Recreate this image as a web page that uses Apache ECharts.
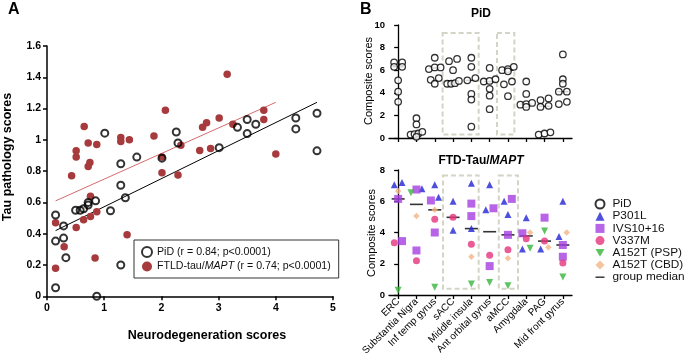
<!DOCTYPE html>
<html><head><meta charset="utf-8">
<script src="https://cdn.jsdelivr.net/npm/echarts@6/dist/echarts.min.js"></script>
<style>html,body{margin:0;padding:0;background:#fff}#c{width:685px;height:361px}</style>
</head><body><div id="c"></div>
<script>
// ---------- Panel A: neurodegeneration vs tau pathology ----------
const pidA = [[1.01,1.043],[1.29,0.847],[1.57,0.89],[2.01,0.883],[2.26,1.05],[2.29,0.98],[3.01,0.95],
  [3.33,1.08],[3.50,1.13],[3.50,1.04],[3.65,1.10],[4.35,1.14],[4.35,1.07],[4.72,1.17],[4.72,0.93],
  [0.15,0.52],[0.29,0.45],[0.15,0.353],[0.29,0.372],[0.33,0.247],[0.15,0.055],[0.87,0.0],[1.29,0.20],
  [0.50,0.55],[0.58,0.55],[0.64,0.56],[0.72,0.583],[0.72,0.60],[0.85,0.61],[1.11,0.547],[1.29,0.71],[1.37,0.63]];
const mapA = [[0.43,0.77],[0.65,1.085],[0.51,0.93],[0.51,0.89],[0.72,0.98],[0.75,0.855],[0.72,0.83],[0.87,0.97],
  [1.29,1.015],[1.29,0.99],[1.44,1.0],[1.87,1.025],[2.07,1.19],[2.01,0.89],[2.01,0.79],[2.29,0.775],[2.34,0.966],
  [2.67,0.932],[2.72,1.08],[2.79,1.11],[2.86,0.945],[3.01,1.14],[3.15,1.42],[3.25,1.10],[3.79,1.19],[3.79,1.13],[4.0,0.91],
  [0.76,0.64],[0.15,0.47],[0.51,0.44],[0.64,0.49],[0.76,0.51],[0.87,0.54],[0.30,0.317],[1.40,0.393],[0.15,0.18],[0.84,0.245]];
const pidFit = [[0.15,0.42],[4.72,1.24]];
const mapFit = [[0.15,0.61],[4.0,1.24]];

// ---------- Panel B: composite scores per region ----------
const regions = ['ERC','Substantia Nigra','Inf temp gyrus','sACC','Middle insula','Ant orbital gyrus','aMCC','Amygdala','PAG','Mid front gyrus'];
const pidB = [[6.7,6.7,6.3,6.3,5.1,4.1,3.2],[1.75,1.2,0.55,0.4,0.35,0.3,0.1],[7.1,6.25,6.25,6.1,5.3,5.15,4.8],
  [7.0,6.8,6.0,5.05,4.85,4.8,4.8],[7.1,6.3,5.3,5.1,3.9,3.4,1.0],[6.2,5.2,5.05,5.0,4.35,3.75,2.55],
  [6.3,6.1,6.0,5.9,5.0,4.75,3.7],[5.0,3.9,3.1,3.0,2.95,2.75],[3.5,3.35,2.85,2.75,0.5,0.4,0.3],[7.4,5.2,4.8,4.1,4.1,3.2,3.0]];
const pidMedian = [6.3,0.4,6.2,5.05,5.1,5.0,6.0,3.0,2.8,4.1];
const p301l = [[7.05,7.2],[6.8],[7.05,6.25],[6.0,4.15],[7.15,4.25],[7.05,5.45],[6.0,5.15],[4.95,2.95],[2.95],[6.0,3.75]];
const ivs = [[6.15,3.45],[6.75,2.85],[6.05,4.0],[],[5.85,5.05],[5.55,1.85],[6.15,3.85],[3.95],[4.95],[3.2,2.45]];
const v337m = [[3.35],[2.2],[4.85],[4.97],[3.25],[2.55],[2.9],[3.6],[3.45],[2.05]];
const a152tPSP = [[0.3],[6.55],[0.5],[],[0.7],[0.8],[0.6],[3.0],[4.1],[1.15]];
const a152tCBD = [[6.65],[5.05],[5.45],[],[2.45],[],[2.35],[4.0],[3.05],[4.0]];
const mutMedian = [6.15,5.8,5.45,4.97,4.25,4.05,3.85,3.78,3.45,3.2];
// dashed boxes: [x from, x to] in region-index units, [value bottom, value top]
const boxesPiD = [[[2.43,4.4],[0.3,9.3]],[[5.4,6.35],[0.3,9.3]]];
const boxesMut = [[[2.45,4.4],[0.4,7.65]],[[5.5,6.55],[0.4,7.65]]];

// simple beeswarm: points with close values share a row and are spread sideways
function swarm(groupsByKey, tol, step, maxSpread){
  const out = {};
  Object.keys(groupsByKey).forEach(k => out[k] = []);
  for (let i = 0; i < regions.length; i++){
    const items = [];
    Object.keys(groupsByKey).forEach(k => (groupsByKey[k][i] || []).forEach(v => items.push({k, v})));
    items.sort((a,b) => b.v - a.v);
    let j = 0;
    while (j < items.length){
      const row = [items[j]]; let m = j + 1;
      while (m < items.length && items[j].v - items[m].v <= tol + 1e-9){ row.push(items[m]); m++; }
      row.sort((a,b) => a.v - b.v);
      const n = row.length;
      const d = n > 1 ? Math.min(step, 2*maxSpread/(n-1)) : 0;
      row.forEach((it, q) => out[it.k].push([i + (q - (n-1)/2)*d, it.v]));
      j = m;
    }
  }
  return out;
}
const topPts = swarm({pid: pidB}, 0.3, 0.44, 0.32);
const botPts = swarm({p: p301l, i: ivs, v: v337m, s: a152tPSP, c: a152tCBD}, 0.3, 0.42, 0.3);

const FONT = '"Liberation Sans", Arial, sans-serif';
const black = '#000';
const downTri = 'path://M0,0L10,0L5,8.7Z';
function markBoxes(boxes){
  return {silent:true, itemStyle:{color:'rgba(0,0,0,0)', borderColor:'#d4d4c6', borderWidth:2, borderType:[5,3]},
    data: boxes.map(b => [{xAxis:b[0][0], yAxis:b[1][1]}, {xAxis:b[0][1], yAxis:b[1][0]}])};
}
const idx = regions.map((_, i) => i);
const axLine = {lineStyle:{color:black, width:1.3}};
const axTick = {length:4, lineStyle:{color:black, width:1.3}};

const chart = echarts.init(document.getElementById('c'), null, {renderer:'canvas'});
chart.setOption({
  animation:false,
  textStyle:{fontFamily:FONT},
  grid:[
    {left:47, top:46, width:286, height:250.3},
    {left:389, top:25, width:183, height:113},
    {left:389, top:170, width:183, height:125}
  ],
  xAxis:[
    {gridIndex:0, type:'value', min:0, max:5, interval:1, axisLine:{lineStyle:{color:black,width:1.5}},
      axisTick:{length:4, lineStyle:{color:black,width:1.5}}, splitLine:{show:false},
      axisLabel:{color:black, fontWeight:'bold', fontSize:10.5, margin:6, fontFamily:FONT}},
    {gridIndex:1, type:'value', min:-0.5, max:9.5, axisLine:axLine, splitLine:{show:false},
      axisTick:{...axTick, customValues:idx}, axisLabel:{show:false, customValues:idx}},
    {gridIndex:2, type:'value', min:-0.5, max:9.5, axisLine:axLine, splitLine:{show:false},
      axisTick:{...axTick, customValues:idx},
      axisLabel:{customValues:idx, rotate:45, color:black, fontSize:10, margin:5, fontFamily:FONT, formatter:v => regions[Math.round(v)]}}
  ],
  yAxis:[
    {gridIndex:0, type:'value', min:0, max:1.6, interval:0.2, axisLine:{show:true, lineStyle:{color:black,width:1.5}},
      axisTick:{show:true, length:4, lineStyle:{color:black,width:1.5}}, splitLine:{show:false},
      axisLabel:{color:black, fontWeight:'bold', fontSize:10.5, margin:6, fontFamily:FONT}},
    {gridIndex:1, type:'value', min:0, max:10, interval:2, axisLine:{show:true, ...axLine}, axisTick:{show:true, ...axTick},
      splitLine:{show:false}, axisLabel:{color:black, fontWeight:'bold', fontSize:9.5, margin:4, fontFamily:FONT}},
    {gridIndex:2, type:'value', min:0, max:8, interval:2, axisLine:{show:true, ...axLine}, axisTick:{show:true, ...axTick},
      splitLine:{show:false}, axisLabel:{color:black, fontWeight:'bold', fontSize:9.5, margin:4, fontFamily:FONT}}
  ],
  legend:[
    {orient:'vertical', left:134, top:240, padding:[6,8,6,7], itemGap:3, itemWidth:10, itemHeight:10,
      borderColor:'#333', borderWidth:1, selectedMode:false,
      data:['PiD (r = 0.84; p<0.0001)','FTLD-tau/MAPT (r = 0.74; p<0.0001)'],
      textStyle:{color:'#111', fontSize:10.6, fontFamily:FONT, rich:{i:{fontStyle:'italic', fontSize:10.6, fontFamily:FONT, color:'#111'}, n:{fontSize:10.6, fontFamily:FONT, color:'#111'}}},
      formatter: n => n.indexOf('FTLD') === 0 ? '{n|FTLD-tau/}{i|MAPT}{n| (r = 0.74; p<0.0001)}' : n},
    {orient:'vertical', left:589.5, top:193, itemGap:0.2, itemWidth:9, itemHeight:9, selectedMode:false,
      data:['PiD','P301L','IVS10+16','V337M','A152T (PSP)','A152T (CBD)',
        {name:'group median', icon:'path://M0,0H8V1.3H0Z'}],
      textStyle:{color:'#111', fontSize:11.8, lineHeight:12, fontFamily:FONT, padding:[0,0,0,3]}}
  ],
  graphic:[
    {type:'text', left:8, top:2, style:{text:'A', font:'bold 16px '+FONT, fill:black}},
    {type:'text', left:360, top:2, style:{text:'B', font:'bold 16px '+FONT, fill:black}},
    {type:'text', x:8, y:157, rotation:Math.PI/2, style:{text:'Tau pathology scores', font:'bold 12.5px '+FONT, fill:black, align:'center', verticalAlign:'middle'}},
    {type:'text', x:207, y:336, style:{text:'Neurodegeneration scores', font:'bold 12.5px '+FONT, fill:black, align:'center', verticalAlign:'middle'}},
    {type:'text', x:369, y:81, rotation:Math.PI/2, style:{text:'Composite scores', font:'11px '+FONT, fill:black, align:'center', verticalAlign:'middle'}},
    {type:'text', x:372, y:233, rotation:Math.PI/2, style:{text:'Composite scores', font:'11px '+FONT, fill:black, align:'center', verticalAlign:'middle'}},
    {type:'text', x:481, y:14, style:{text:'PiD', font:'bold 12px '+FONT, fill:black, align:'center', verticalAlign:'middle'}},
    {type:'text', x:481, y:161, style:{text:'{b|FTD-Tau/}{i|MAPT}', align:'center', verticalAlign:'middle',
      rich:{b:{font:'bold 12px '+FONT, fill:black}, i:{font:'italic bold 12px '+FONT, fill:black}}}}
  ],
  series:[
    {name:'FTLD-tau/MAPT (r = 0.74; p<0.0001)', type:'scatter', xAxisIndex:0, yAxisIndex:0, data:mapA,
      symbol:'circle', symbolSize:7.5, itemStyle:{color:'#a63a3c', opacity:1}, z:2},
    {name:'PiD (r = 0.84; p<0.0001)', type:'scatter', xAxisIndex:0, yAxisIndex:0, data:pidA,
      symbol:'circle', symbolSize:7, itemStyle:{color:'rgba(255,255,255,0)', borderColor:black, borderWidth:2}, z:3},
    {type:'line', xAxisIndex:0, yAxisIndex:0, data:mapFit, symbol:'none', silent:true, lineStyle:{color:'#d66a6c', width:1}, z:1},
    {type:'line', xAxisIndex:0, yAxisIndex:0, data:pidFit, symbol:'none', silent:true, lineStyle:{color:black, width:1}, z:1},

    {name:'pid median', type:'scatter', xAxisIndex:1, yAxisIndex:1, data:pidMedian.map((v,i)=>[i,v]),
      symbol:'rect', symbolSize:[11,1.5], itemStyle:{color:black}, z:2, markArea:markBoxes(boxesPiD)},
    {name:'PiD', type:'scatter', xAxisIndex:1, yAxisIndex:1, data:topPts.pid, symbol:'circle', symbolSize:6.5,
      itemStyle:{color:'#fff', borderColor:black, borderWidth:1.3}, z:3},

    {name:'group median', type:'scatter', xAxisIndex:2, yAxisIndex:2, data:mutMedian.map((v,i)=>[i,v]),
      symbol:'rect', symbolSize:[13,1.6], itemStyle:{color:black}, z:2, markArea:markBoxes(boxesMut)},
    {name:'P301L', type:'scatter', xAxisIndex:2, yAxisIndex:2, data:botPts.p, symbol:'triangle', symbolSize:7, itemStyle:{color:'#2323d6'}, z:3},
    {name:'IVS10+16', type:'scatter', xAxisIndex:2, yAxisIndex:2, data:botPts.i, symbol:'rect', symbolSize:8, itemStyle:{color:'#a53fe0'}, z:3},
    {name:'V337M', type:'scatter', xAxisIndex:2, yAxisIndex:2, data:botPts.v, symbol:'circle', symbolSize:7, itemStyle:{color:'#e5337c'}, z:3},
    {name:'A152T (PSP)', type:'scatter', xAxisIndex:2, yAxisIndex:2, data:botPts.s, symbol:downTri, symbolSize:7, itemStyle:{color:'#35b53a'}, z:3},
    {name:'A152T (CBD)', type:'scatter', xAxisIndex:2, yAxisIndex:2, data:botPts.c, symbol:'diamond', symbolSize:6.5, itemStyle:{color:'#f2b585'}, z:3}
  ]
});
</script></body></html>
